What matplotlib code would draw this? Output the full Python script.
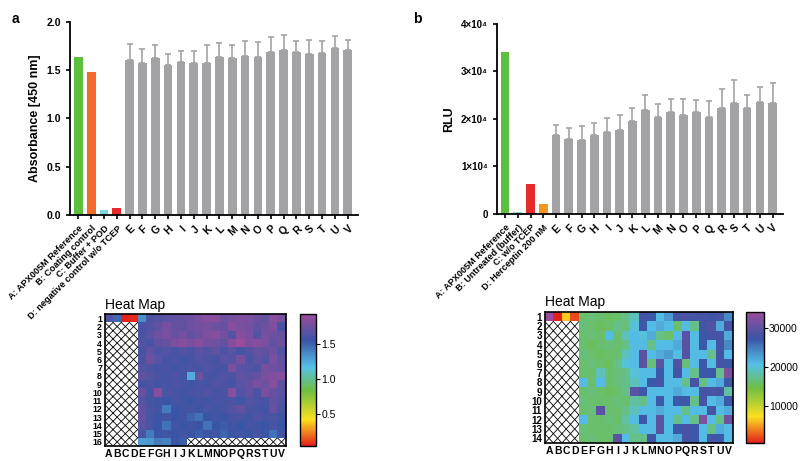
import numpy as np
import matplotlib
matplotlib.use("Agg")
import matplotlib.pyplot as plt
from matplotlib.colors import LinearSegmentedColormap

plt.rcParams['font.family'] = ['Liberation Sans', 'DejaVu Sans']

# ---- data ----
letters = list("ABCDEFGHIJKLMNOPQRSTUV")
samples = letters[4:]

labels_a = ["A: APX005M Reference", "B: Coating control", "C: Buffer + POD",
            "D: negative control w/o TCEP"] + samples
ctrl_a = [1.635, 1.48, 0.05, 0.07]
ctrl_colors_a = ["#5cbf3e", "#f26b2b", "#7fd3dc", "#e52a2a"]
mean_a = [1.61, 1.58, 1.63, 1.55, 1.59, 1.58, 1.58, 1.64, 1.63, 1.65, 1.64,
          1.69, 1.71, 1.69, 1.67, 1.68, 1.73, 1.71]
err_a = [0.16, 0.14, 0.13, 0.12, 0.11, 0.12, 0.18, 0.14, 0.13, 0.15, 0.15,
         0.16, 0.16, 0.11, 0.14, 0.12, 0.13, 0.10]

labels_b = ["A: APX005M Reference", "B: Untreated (buffer)", "C: w/o TCEP",
            "D: Herceptin 200 nM"] + samples
ctrl_b = [34000, 400, 6400, 2000]
ctrl_colors_b = ["#5cbf3e", "#7fd3dc", "#e52a2a", "#f5961f"]
mean_b = [16700, 15800, 15500, 16600, 17200, 17700, 19500, 21900, 20400, 21500,
          20800, 21400, 20400, 22200, 23400, 22400, 23500, 23300]
err_b = [2000, 2200, 3100, 2600, 3100, 3100, 2800, 3200, 2800, 2800,
         3300, 2600, 3300, 4100, 4700, 2600, 3300, 4200]

# heat map a: rows 1-16, columns E-V (row 1 A-D separately)
heat_a_ctrl = [1.63, 1.48, 0.05, 0.07]
heat_a = [
    [1.35, 1.62, 1.65, 1.68, 1.70, 1.72, 1.75, 1.80, 1.85, 1.85, 1.75, 1.78, 1.82, 1.80, 1.75, 1.72, 1.85, 1.80],
    [1.60, 1.65, 1.70, 1.78, 1.72, 1.70, 1.75, 1.78, 1.80, 1.75, 1.72, 1.85, 1.80, 1.78, 1.70, 1.75, 1.82, 1.60],
    [1.62, 1.68, 1.75, 1.80, 1.72, 1.78, 1.70, 1.75, 1.82, 1.85, 1.78, 1.65, 1.85, 1.80, 1.65, 1.78, 1.75, 1.72],
    [1.65, 1.60, 1.70, 1.72, 1.82, 1.85, 1.80, 1.85, 1.78, 1.75, 1.70, 1.85, 1.93, 1.82, 1.85, 1.80, 1.70, 1.75],
    [1.60, 1.70, 1.62, 1.65, 1.60, 1.65, 1.62, 1.68, 1.65, 1.70, 1.62, 1.68, 1.60, 1.65, 1.72, 1.70, 1.75, 1.65],
    [1.62, 1.75, 1.68, 1.60, 1.62, 1.58, 1.60, 1.65, 1.62, 1.60, 1.68, 1.65, 1.78, 1.62, 1.70, 1.65, 1.80, 1.70],
    [1.65, 1.62, 1.60, 1.62, 1.58, 1.60, 1.62, 1.60, 1.65, 1.62, 1.60, 1.80, 1.68, 1.65, 1.62, 1.78, 1.75, 1.72],
    [1.70, 1.65, 1.62, 1.60, 1.62, 1.58, 1.25, 1.75, 1.62, 1.60, 1.65, 1.62, 1.70, 1.68, 1.72, 1.80, 1.82, 1.85],
    [1.60, 1.62, 1.58, 1.60, 1.62, 1.60, 1.58, 1.62, 1.60, 1.65, 1.62, 1.60, 1.68, 1.72, 1.80, 1.75, 1.85, 1.70],
    [1.72, 1.60, 1.85, 1.62, 1.60, 1.58, 1.60, 1.62, 1.65, 1.60, 1.62, 1.85, 1.65, 1.70, 1.62, 1.80, 1.72, 1.68],
    [1.65, 1.60, 1.58, 1.55, 1.60, 1.58, 1.55, 1.60, 1.58, 1.62, 1.60, 1.62, 1.58, 1.65, 1.62, 1.60, 1.70, 1.65],
    [1.70, 1.62, 1.58, 1.42, 1.55, 1.58, 1.60, 1.55, 1.62, 1.58, 1.60, 1.65, 1.70, 1.62, 1.60, 1.58, 1.72, 1.62],
    [1.72, 1.60, 1.55, 1.58, 1.55, 1.58, 1.50, 1.45, 1.55, 1.58, 1.55, 1.60, 1.62, 1.58, 1.65, 1.60, 1.62, 1.58],
    [1.68, 1.62, 1.55, 1.45, 1.58, 1.55, 1.58, 1.55, 1.45, 1.55, 1.52, 1.58, 1.55, 1.60, 1.58, 1.55, 1.60, 1.55],
    [1.62, 1.42, 1.55, 1.58, 1.55, 1.58, 1.55, 1.52, 1.55, 1.58, 1.50, 1.55, 1.58, 1.55, 1.60, 1.55, 1.45, 1.58],
    [1.30, 1.32, 1.42, 1.40, 1.55, 1.52] + [np.nan] * 12,
]

# heat map b (RLU in thousands): rows 1-14, columns E-V
heat_b_ctrl = [34.0, 0.5, 6.5, 2.0]
heat_b = [
    [16, 16.5, 16, 15.5, 16, 17, 19, 28, 27, 21, 23, 28, 28.5, 28, 28, 27.5, 28, 24],
    [16.5, 16, 15.5, 16, 17, 16.5, 20, 27, 21, 22, 21, 16, 21, 17, 28, 29, 22, 28],
    [16, 16.5, 16, 21, 16, 19, 21, 20, 22, 17, 16, 21, 29.5, 21, 27, 28, 28, 22],
    [16, 15.5, 16, 16.5, 16, 17, 21, 21, 17, 21, 21, 22, 29.5, 21, 27, 21, 28, 24],
    [16.5, 16, 15.5, 16, 16, 19, 21, 29.5, 21, 22, 23, 21, 29, 21, 21, 17, 28, 21],
    [16, 16.5, 16, 15.5, 17, 20, 21, 29.5, 16.5, 29.5, 21, 29, 16.5, 21, 27, 21, 28, 27],
    [16, 16, 19, 16, 16.5, 17, 20, 21, 21, 27, 21, 28, 21, 17, 27, 27, 17, 32],
    [21, 16, 21, 16, 16.5, 17, 19, 21, 27, 28, 21, 21, 17, 28, 17, 21, 22, 27],
    [16, 16.5, 16, 15.5, 16, 17, 29.5, 27, 21, 21, 21, 22, 21, 21, 28, 28, 28, 18],
    [16.5, 16, 16, 16, 16.5, 16, 18, 17, 21, 27, 21, 27, 27, 17, 28, 21, 22, 27],
    [16, 16.5, 29.5, 16, 16, 17, 19, 21, 21, 22, 21, 21, 17, 21, 21, 28, 21, 22],
    [21, 16, 16, 16.5, 16, 18, 21, 27, 21, 29.5, 21, 17, 21, 17, 32, 21, 17, 31],
    [16.5, 16, 16, 16, 16.5, 17, 18, 21, 21, 29.5, 21, 27, 28, 27, 21, 17, 22, 21],
    [16, 16.5, 16, 16, 29.5, 21, 17, 17, 28, 21, 21, 22, 28, 27, 21, 28, 27, 21],
]

cmap = LinearSegmentedColormap.from_list("gp", [
    (0.0, "#e3211c"), (0.1, "#f07f1f"), (0.2, "#f9e11d"), (0.42, "#6fbe44"),
    (0.6, "#56c1e8"), (0.8, "#3a55a5"), (1.0, "#9b4c9c")])

gray = "#a3a3a5"


def bar_panel(ax, labels, ctrl, ctrl_colors, mean, err):
    x = np.arange(len(labels))
    heights = ctrl + mean
    colors = ctrl_colors + [gray] * len(mean)
    ax.bar(x, heights, width=0.68, color=colors, zorder=2)
    xs = x[len(ctrl):]
    ax.errorbar(xs, mean, yerr=[np.zeros(len(err)), err], fmt='none',
                ecolor=gray, elinewidth=1.2, capsize=2.2, capthick=1.2, zorder=1)
    ax.set_xlim(-0.65, len(labels) - 0.2)
    for s in ['top', 'right']:
        ax.spines[s].set_visible(False)
    for s in ['left', 'bottom']:
        ax.spines[s].set_linewidth(1.3)
    ax.tick_params(width=1.2, length=3, labelsize=7.5)
    ax.set_xticks(x)
    ax.set_xticklabels(labels, rotation=45, ha='right', rotation_mode='anchor',
                       fontsize=7.5, fontweight='bold')
    # the long control names are set a little smaller
    for t in ax.get_xticklabels()[:len(ctrl)]:
        t.set_fontsize(6.6)


fig = plt.figure(figsize=(8, 4.61), dpi=100)

# panel a
ax_a = fig.add_axes([0.0875, 0.534, 0.36, 0.418])
bar_panel(ax_a, labels_a, ctrl_a, ctrl_colors_a, mean_a, err_a)
ax_a.set_ylim(0, 2.0)
ax_a.set_yticks([0, 0.5, 1.0, 1.5, 2.0])
ax_a.set_yticklabels(["0.0", "0.5", "1.0", "1.5", "2.0"], fontweight='bold', fontsize=7.5)
ax_a.set_ylabel("Absorbance [450 nm]", fontsize=9, fontweight='bold')

# panel b
ax_b = fig.add_axes([0.621, 0.536, 0.3575, 0.412])
bar_panel(ax_b, labels_b, ctrl_b, ctrl_colors_b, mean_b, err_b)
ax_b.set_ylim(0, 40000)
ax_b.set_yticks([0, 10000, 20000, 30000, 40000])
ax_b.set_yticklabels(["0", "1\u00d710\u2074", "2\u00d710\u2074", "3\u00d710\u2074", "4\u00d710\u2074"],
                     fontweight='bold', fontsize=7)
ax_b.set_ylabel("RLU", fontsize=9, fontweight='bold')

fig.text(0.015, 0.975, "a", fontsize=10, fontweight='bold', va='top')
fig.text(0.516, 0.975, "b", fontsize=10, fontweight='bold', va='top')


def heat_panel(rect, crect, ctrl, rows, ticks, tick_labels, row_fs):
    nrows = len(rows)
    grid = np.full((nrows, len(letters)), np.nan)
    grid[0, :4] = ctrl
    grid[:, 4:] = np.array(rows, dtype=float)
    ax = fig.add_axes(rect)
    mesh = ax.pcolormesh(np.arange(len(letters) + 1), np.arange(nrows + 1), grid,
                         cmap=cmap, vmin=np.nanmin(grid), vmax=np.nanmax(grid), zorder=1)
    # empty wells: one cross per cell
    for r, c in zip(*np.where(np.isnan(grid))):
        ax.plot([c, c + 1], [r, r + 1], color='black', lw=0.6, zorder=0)
        ax.plot([c, c + 1], [r + 1, r], color='black', lw=0.6, zorder=0)
    ax.set_xlim(0, len(letters))
    ax.set_ylim(nrows, 0)
    ax.set_xticks(np.arange(len(letters)) + 0.5)
    ax.set_xticklabels(letters, fontsize=7.5, fontweight='bold')
    ax.set_yticks(np.arange(nrows) + 0.5)
    ax.set_yticklabels([str(i + 1) for i in range(nrows)], fontsize=row_fs, fontweight='bold')
    ax.tick_params(length=0, pad=2)
    for s in ax.spines.values():
        s.set_linewidth(1.2)
    ax.text(0, 1.02, "Heat Map", transform=ax.transAxes, fontsize=10, va='bottom')
    cax = fig.add_axes(crect)
    cb = fig.colorbar(mesh, cax=cax, ticks=ticks)
    cb.ax.set_yticklabels(tick_labels, fontsize=7.5)
    cb.outline.set_linewidth(1.0)
    cb.ax.tick_params(length=3, width=0.8, pad=1)
    return ax


heat_panel([0.131, 0.0325, 0.226, 0.286], [0.375, 0.0325, 0.02, 0.286],
           heat_a_ctrl, heat_a, [0.5, 1.0, 1.5], ["0.5", "1.0", "1.5"], 6.3)
heat_panel([0.681, 0.039, 0.235, 0.284], [0.932, 0.039, 0.0225, 0.284],
           np.array(heat_b_ctrl) * 1000, np.array(heat_b) * 1000,
           [10000, 20000, 30000], ["10000", "20000", "30000"], 7)

fig.savefig("out.png", dpi=100)
